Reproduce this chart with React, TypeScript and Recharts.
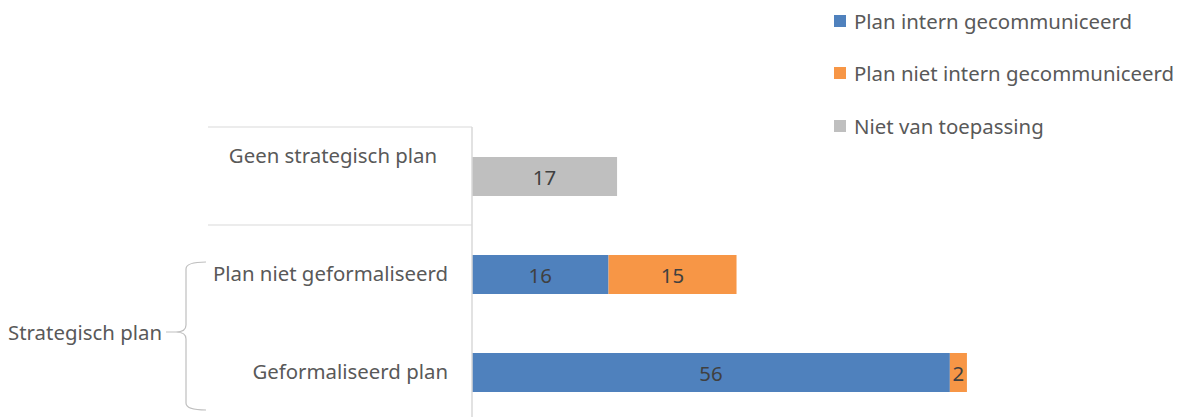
import React from 'react';
import { BarChart, Bar, XAxis, YAxis, LabelList, Legend } from 'recharts';

// ---- Data ----
const categories = ['Geen strategisch plan', 'Plan niet geformaliseerd', 'Geformaliseerd plan'];
const groupLabel = 'Strategisch plan';
const groupMembers = ['Plan niet geformaliseerd', 'Geformaliseerd plan'];
const seriesNames = ['Plan intern gecommuniceerd', 'Plan niet intern gecommuniceerd', 'Niet van toepassing'];
const internValues = [null, 16, 56];
const nietInternValues = [null, 15, 2];
const nvtValues = [17, null, null];

const colors = ['#4f81bd', '#f79646', '#bfbfbf'];

const data = categories.map((c, i) => ({
  cat: c,
  intern: internValues[i],
  nietIntern: nietInternValues[i],
  nvt: nvtValues[i],
}));

const keys = ['intern', 'nietIntern', 'nvt'];

// ---- Layout ----
const CHART_W = 1181;
const CHART_H = 430;
const MARGIN = { top: 127, right: 197, bottom: 9, left: 0 };
const FONT = '"Noto Sans", sans-serif';
const FS = 20.4;
const TEXT = '#595959';
const LINE = '#d9d9d9';
const BAND = (CHART_H - MARGIN.top - MARGIN.bottom) / categories.length;

const CategoryTick = (props: any) => {
  const { y, payload } = props;
  const label = payload.value as string;
  const inGroup = groupMembers.includes(label);
  const els: React.ReactNode[] = [];
  if (!inGroup) {
    els.push(
      <line key="l1" x1={208} x2={472} y1={y - BAND / 2} y2={y - BAND / 2} stroke={LINE} strokeWidth={1} />,
      <line key="l2" x1={208} x2={472} y1={y + BAND / 2} y2={y + BAND / 2} stroke={LINE} strokeWidth={1} />,
      <text key="t" x={333} y={y - 21} textAnchor="middle" dominantBaseline="central" fill={TEXT} fontFamily={FONT} fontSize={FS}>
        {label}
      </text>
    );
  } else {
    els.push(
      <text key="t" x={448} y={y - 1} textAnchor="end" dominantBaseline="central" fill={TEXT} fontFamily={FONT} fontSize={FS}>
        {label}
      </text>
    );
    if (label === groupMembers[groupMembers.length - 1]) {
      const top = y - BAND * (groupMembers.length - 1) - 12;
      const bot = y + 38;
      const mid = (top + bot) / 2 - 4;
      els.push(
        <path
          key="b"
          d={`M206,${top} Q186,${top} 186,${top + 7} L186,${mid - 7} Q186,${mid} 176,${mid} L166,${mid} M176,${mid} Q186,${mid} 186,${mid + 7} L186,${bot - 7} Q186,${bot} 206,${bot}`}
          fill="none"
          stroke="#bfbfbf"
          strokeWidth={1.2}
        />,
        <text key="g" x={162} y={mid} textAnchor="end" dominantBaseline="central" fill={TEXT} fontFamily={FONT} fontSize={FS}>
          {groupLabel}
        </text>
      );
    }
  }
  return <g>{els}</g>;
};

const renderLegend = () => (
  <div style={{ fontFamily: FONT, fontSize: FS, color: TEXT }}>
    {seriesNames.map((n, i) => (
      <div key={n} style={{ height: 52.3, display: 'flex', alignItems: 'center', whiteSpace: 'nowrap' }}>
        <span style={{ display: 'inline-block', width: 12, height: 12, background: colors[i], marginRight: 8 }} />
        <span>{n}</span>
      </div>
    ))}
  </div>
);

const makeLabel = (fill: string) => (p: any) => {
  const { x, y, width, height, value } = p;
  if (value === null || value === undefined) return null;
  return (
    <text x={x + width / 2} y={y + height / 2} textAnchor="middle" dominantBaseline="central" fill={fill} fontFamily={FONT} fontSize={FS}>
      {value}
    </text>
  );
};

export default function App() {
  return (
    <div style={{ position: 'absolute', left: 0, top: 0, width: CHART_W, height: 417, overflow: 'hidden', background: '#fff' }}>
      <BarChart width={CHART_W} height={CHART_H} data={data} layout="vertical" margin={MARGIN} barSize={39}>
        <XAxis type="number" domain={[0, 60]} hide />
        <YAxis
          type="category"
          dataKey="cat"
          width={472}
          tickLine={false}
          axisLine={{ stroke: LINE, strokeWidth: 1.5 }}
          tick={<CategoryTick />}
          interval={0}
        />
        <Legend
          layout="vertical"
          align="center"
          verticalAlign="middle"
          content={renderLegend}
          wrapperStyle={{ position: 'absolute', top: -5, left: 834, width: 347 }}
        />
        {keys.map((k, i) => (
          <Bar key={k} dataKey={k} name={seriesNames[i]} stackId="a" fill={colors[i]} isAnimationActive={false}>
            <LabelList dataKey={k} content={makeLabel('#404040')} />
          </Bar>
        ))}
      </BarChart>
    </div>
  );
}
